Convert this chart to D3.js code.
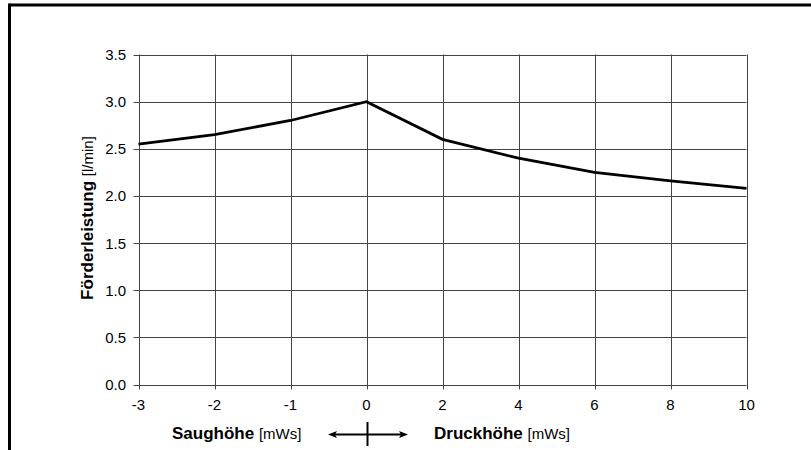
<!DOCTYPE html>
<html><head><meta charset="utf-8">
<script src="https://cdn.jsdelivr.net/npm/d3@7"></script>
<style>body{margin:0;background:#fff}svg{display:block}text{font-family:"Liberation Sans",Arial,sans-serif}</style>
</head><body>
<svg id="c" width="811" height="450"></svg>
<script>
const categories = ["-3","-2","-1","0","2","4","6","8","10"];
const values = [2.55, 2.65, 2.80, 3.00, 2.60, 2.40, 2.25, 2.16, 2.08];
const yTicks = [0,0.5,1,1.5,2,2.5,3,3.5];

const svg = d3.select("#c");
const L=138.5, R=746.5, T=54.5, B=384.5;
const x = d3.scalePoint().domain(categories).range([L,R]);
const y = d3.scaleLinear().domain([0,3.5]).range([B,T]);

// frame
svg.append("line").attr("x1",9.5).attr("x2",811).attr("y1",5).attr("y2",5).attr("stroke","#000").attr("stroke-width",3);
svg.append("line").attr("x1",9.5).attr("x2",9.5).attr("y1",3.5).attr("y2",450).attr("stroke","#000").attr("stroke-width",3);

// grid
const g = svg.append("g");
g.selectAll(".hy").data(yTicks).enter().append("line")
 .attr("x1",L-5).attr("x2",R).attr("y1",d=>Math.round(y(d))+0.5).attr("y2",d=>Math.round(y(d))+0.5)
 .attr("stroke","#444").attr("stroke-width",1);
g.selectAll(".vx").data(categories).enter().append("line")
 .attr("x1",d=>Math.round(x(d))+0.5).attr("x2",d=>Math.round(x(d))+0.5).attr("y1",T).attr("y2",B+5)
 .attr("stroke","#444").attr("stroke-width",1);

// tick labels
g.selectAll(".ty").data(yTicks).enter().append("text")
 .attr("x",126).attr("y",d=>y(d)+5.5).attr("text-anchor","end").attr("font-size",15).attr("fill","#000")
 .text(d=>d3.format(".1f")(d));
g.selectAll(".tx").data(categories).enter().append("text")
 .attr("x",d=>x(d)).attr("y",410).attr("text-anchor","middle").attr("font-size",15).attr("fill","#000")
 .text(d=>d);

// line
const line = d3.line().x((d,i)=>x(categories[i])).y(d=>y(d));
svg.append("path").datum(values).attr("d",line).attr("fill","none").attr("stroke","#000").attr("stroke-width",2.8).attr("stroke-linejoin","miter");

// y title
const yt = svg.append("text").attr("transform","translate(93,218) rotate(-90)").attr("text-anchor","middle");
yt.append("tspan").attr("font-weight","bold").attr("font-size",17).text("Förderleistung ");
yt.append("tspan").attr("font-size",15).text("[l/min]");

// bottom labels
const s1 = svg.append("text").attr("x",172).attr("y",439);
s1.append("tspan").attr("font-weight","bold").attr("font-size",17).text("Saughöhe ");
s1.append("tspan").attr("font-size",15).text("[mWs]");
const s2 = svg.append("text").attr("x",434).attr("y",439);
s2.append("tspan").attr("font-weight","bold").attr("font-size",17).text("Druckhöhe ");
s2.append("tspan").attr("font-size",15).text("[mWs]");

// arrow
svg.append("line").attr("x1",332).attr("x2",404).attr("y1",434.5).attr("y2",434.5).attr("stroke","#000").attr("stroke-width",2);
svg.append("path").attr("d","M328,434.5 L337,431 L335,434.5 L337,438 Z").attr("fill","#000");
svg.append("path").attr("d","M408,434.5 L399,431 L401,434.5 L399,438 Z").attr("fill","#000");
svg.append("line").attr("x1",367.5).attr("x2",367.5).attr("y1",422).attr("y2",446).attr("stroke","#000").attr("stroke-width",2);
</script>
</body></html>
